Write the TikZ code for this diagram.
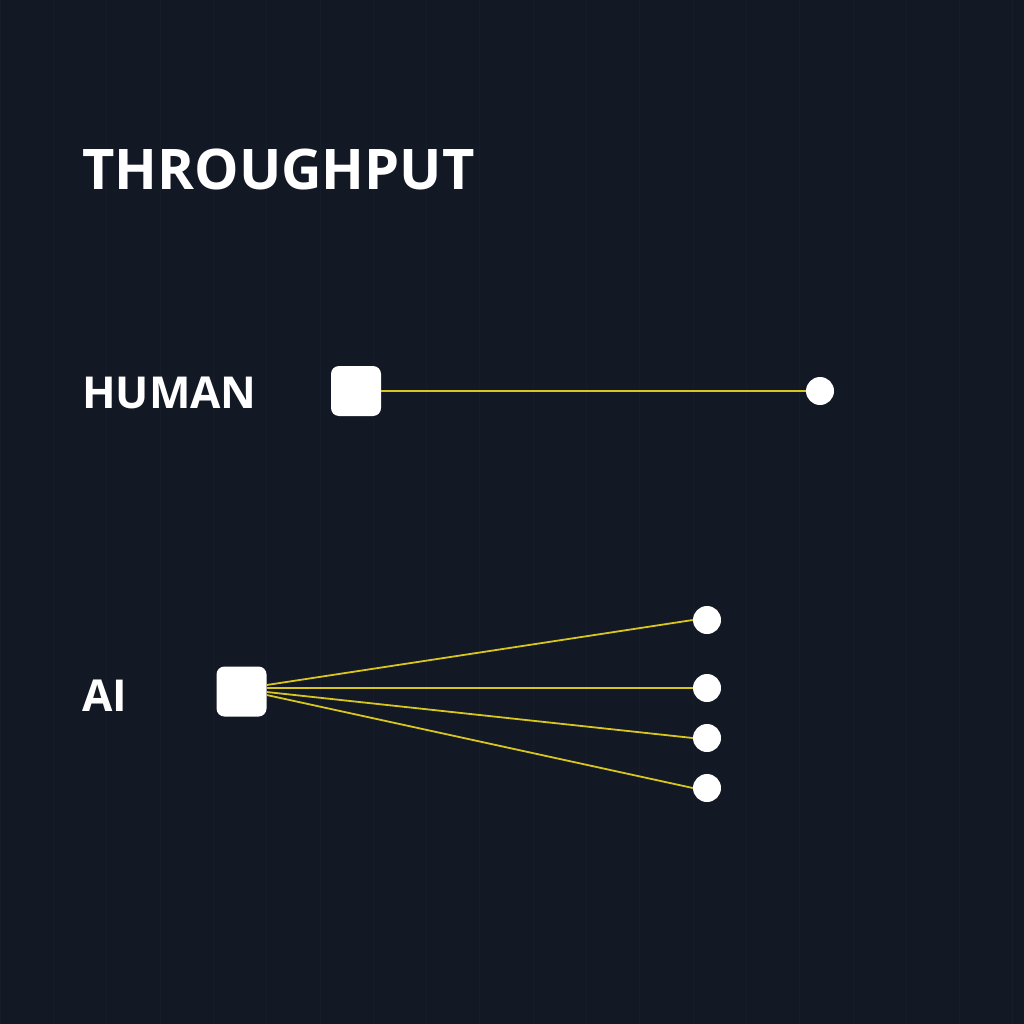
\documentclass[tikz,border=0pt]{standalone}
\usepackage{fontspec}
\setmainfont{Open Sans}
\definecolor{bg}{HTML}{131825}
\definecolor{gridc}{HTML}{171C2A}
\definecolor{wire}{HTML}{D8C620}
\begin{document}
\begin{tikzpicture}[x=1pt,y=-1pt,
  lbl/.style={anchor=base west, text=white, font=\bfseries, inner sep=0pt},
  sq/.style={fill=white, rounded corners=8pt, minimum size=50pt, inner sep=0pt},
  dot/.style={circle, fill=white, minimum size=28pt, inner sep=0pt},
  wireline/.style={draw=wire, line width=1.8pt}]
\fill[bg] (0,0) rectangle (1024,1024);
\useasboundingbox (0,0) rectangle (1024,1024);
\draw[gridc, line width=0.6pt, step=53.3] (0,0) grid (1024,1024);
\node[lbl, font=\bfseries\fontsize{56}{58}\selectfont] (title) at (82,190) {THROUGHPUT};
\node[lbl, font=\bfseries\fontsize{44}{46}\selectfont] (human) at (82,408) {HUMAN};
\node[lbl, font=\bfseries\fontsize{44}{46}\selectfont] (ai) at (82,711) {AI};
\node[sq] (hsq) at (356,391) {};
\node[dot] (hdot) at (820,391) {};
\draw[wireline] (hsq.east) -- (hdot.west);
\node[sq] (asq) at (241.5,691.5) {};
\node[dot] (d1) at (707,620) {};
\node[dot] (d2) at (707,688) {};
\node[dot] (d3) at (707,738) {};
\node[dot] (d4) at (707,788) {};
\draw[wireline] ([yshift=6.5pt]asq.east) -- (d1.west);
\draw[wireline] ([yshift=3.5pt]asq.east) -- (d2.west);
\draw[wireline] ([yshift=-0.5pt]asq.east) -- (d3.west);
\draw[wireline] ([yshift=-3.5pt]asq.east) -- (d4.west);
\end{tikzpicture}
\end{document}
